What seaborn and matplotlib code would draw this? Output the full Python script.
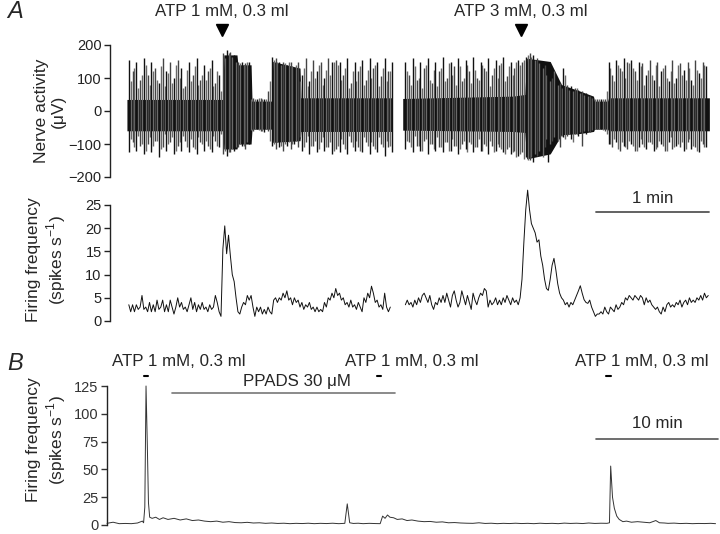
import numpy as np
import matplotlib
matplotlib.use('Agg')
import matplotlib.pyplot as plt
import seaborn as sns

# ---------------- panel A: nerve recording, time in s ----------------
# large spikes, sampled every 2 s (upper / lower excursions, uV)
nerve_l_t = np.arange(10, 151, 2)
nerve_l_up = [155, 120, 150, 95, 160, 110, 150, 130, 85, 160,
              120, 150, 100, 155, 130, 75, 150, 110, 160, 95,
              140, 120, 155, 85, 110,
              175, 185, 180, 170, 150, 150, 145, 150,
              40, 35, 40, 35, 60,
              165, 160, 150, 150, 140, 150, 130, 150, 110, 160,
              90, 155, 120, 150, 100, 160, 150, 155, 150, 110,
              160, 85, 150, 120, 155, 95, 160, 130, 150, 105,
              160, 120, 150]
nerve_l_dn = [-125, -95, -120, -105, -130, -100, -125, -90, -140, -110,
              -120, -95, -130, -105, -120, -90, -125, -110, -130, -95,
              -120, -105, -125, -90, -110,
              -130, -135, -125, -120, -110, -105, -115, -100,
              -60, -55, -60, -65, -60,
              -105, -115, -110, -120, -105, -115, -100, -110, -120, -95,
              -130, -105, -125, -95, -120, -110, -130, -115, -125, -100,
              -130, -95, -120, -110, -125, -95, -130, -105, -125, -100,
              -135, -110, -125]
# smaller spikes in between (odd seconds)
nerve_lm_t = np.arange(11, 150, 2)
nerve_lm_up = [90, 130, 70, 110, 140, 80, 120, 95, 135, 75,
               115, 85, 140, 100, 70, 125, 90, 135, 80, 110,
               95, 130, 75, 120, 60,
               160, 175, 165, 150, 145, 140, 150,
               35, 35, 40, 35, 35, 90,
               155, 150, 140, 145, 150, 135, 140, 90, 130, 75,
               120, 100, 140, 80, 125, 110, 150, 140, 95, 130,
               70, 120, 90, 135, 80, 125, 100, 140, 75, 130,
               90, 120]
nerve_lm_dn = [-85, -110, -75, -100, -120, -80, -105, -90, -115, -70,
               -100, -80, -120, -95, -75, -110, -85, -115, -80, -100,
               -90, -115, -75, -105, -70,
               -120, -125, -115, -110, -100, -105, -95,
               -58, -55, -58, -60, -55, -90,
               -100, -95, -105, -100, -95, -100, -90, -80, -110, -75,
               -105, -90, -115, -80, -110, -95, -120, -105, -85, -115,
               -75, -110, -90, -120, -80, -105, -95, -115, -80, -110,
               -90, -105]
nerve_r_t = np.arange(157, 318, 2)
nerve_r_up = [150, 110, 160, 95, 150, 130, 160, 85, 150, 120,
              165, 100, 150, 135, 160, 90, 155, 120, 165, 100,
              150, 130, 160, 110, 155, 140, 165, 105, 150, 130,
              155, 150,
              165, 175, 170, 160, 150, 140, 120, 100, 95, 85,
              130, 80, 75, 70, 65, 60, 55, 45, 40, 35,
              35, 35,
              150, 110, 155, 130, 160, 150, 155, 120, 150, 145,
              110, 155, 95, 150, 120, 140, 90, 155, 100, 145,
              125, 150, 95, 155, 115, 150, 135]
nerve_r_dn = [-115, -95, -125, -105, -120, -90, -130, -100, -120, -110,
              -125, -95, -120, -105, -130, -100, -115, -95, -125, -110,
              -120, -100, -130, -105, -120, -110, -125, -115, -130, -120,
              -135, -125,
              -140, -150, -155, -135, -125, -110, -155, -90, -85, -110,
              -80, -75, -85, -70, -75, -105, -70, -65, -60, -55,
              -55, -60,
              -100, -110, -95, -120, -105, -115, -100, -120, -110, -100,
              -115, -95, -120, -110, -100, -120, -95, -115, -105, -110,
              -120, -95, -115, -110, -125, -100, -110]
nerve_rm_t = np.arange(158, 317, 2)
nerve_rm_up = [120, 80, 135, 100, 70, 140, 95, 125, 75, 130,
               90, 145, 110, 80, 135, 100, 140, 85, 125, 95,
               140, 120, 75, 130, 100, 145, 90, 135, 110, 150, 140,
               155, 170, 165, 155, 145, 130, 110, 90, 120, 80,
               70, 110, 65, 60, 70, 55, 50, 45, 40, 35,
               35, 35,
               60, 130, 90, 140, 120, 100, 145, 130, 95, 135,
               80, 125, 110, 140, 75, 130, 100, 120, 85, 140,
               110, 95, 130, 80, 125, 100, 140]
nerve_rm_dn = [-90, -110, -75, -105, -120, -85, -100, -115, -80, -110,
               -95, -120, -85, -105, -115, -90, -125, -100, -110, -85,
               -120, -105, -90, -125, -100, -115, -130, -110, -125, -140, -130,
               -145, -150, -140, -130, -120, -140, -85, -100, -80, -90,
               -75, -85, -70, -95, -70, -65, -62, -60, -58, -55,
               -55, -58,
               -70, -100, -85, -115, -95, -110, -90, -105, -120, -85,
               -110, -95, -100, -115, -90, -105, -120, -80, -110, -100,
               -95, -115, -85, -105, -120, -90, -110]
# dense background band of the recording
band_l_t = [9, 60, 60.5, 67.5, 68, 75, 75.5, 86, 86.5, 101, 101.5, 150]
band_l_top = [35, 35, 170, 170, 140, 140, 30, 30, 150, 130, 40, 40]
band_l_bot = [-60, -60, -115, -115, -100, -100, -55, -55, -95, -90, -62, -62]
band_r_t = [155.6, 214, 220.5, 221.5, 234, 240, 250, 257, 257.5, 264.5, 265, 318.6]
band_r_top = [38, 45, 50, 160, 150, 80, 60, 45, 30, 30, 40, 40]
band_r_bot = [-58, -62, -65, -145, -130, -72, -68, -62, -55, -55, -60, -60]

# firing frequency (spikes/s), 1 s bins
rate_l_t = np.arange(10, 150)
rate_l = [3.5, 2, 3.5, 2, 3.5, 2.5, 3, 5.5, 2.5, 3,
          2, 4, 2, 3.5, 2, 4.5, 2.5, 3, 4.5, 2,
          3.5, 2, 4.5, 3, 1.5, 3, 5, 3, 4, 2.5,
          3, 2, 3.5, 5, 2.5, 4, 2, 3.5, 2.5, 4,
          2.5, 3, 2, 3.5, 2.5, 3, 5.5, 4, 2, 1,
          15.5, 20.5, 14.5, 18.5, 14, 10, 8.5, 5, 2, 1.5,
          3, 4, 3.5, 5.5, 4.5, 5.5, 3, 1, 3, 2,
          3, 1.5, 2.5, 1.5, 3, 2, 1.5, 4.5, 5, 4,
          5, 4.5, 6, 5, 6.5, 4.5, 5, 3.5, 5, 4,
          4.5, 3, 4, 2.5, 3.5, 3, 4, 2.5, 3, 2,
          3, 2, 2.5, 2, 4, 3, 5, 4.5, 6, 5,
          7, 5.5, 6, 4.5, 5, 3.5, 4, 3, 4.5, 3,
          3.5, 2.5, 4, 3, 2, 5, 4, 6, 5, 7.5,
          6, 4, 4.5, 3, 3.5, 2.5, 6, 3, 2, 3]
rate_r_t = np.arange(157, 319)
rate_r = [3.5, 4.5, 3.5, 4, 3, 4.5, 3.5, 5, 4, 5.5,
          6, 5, 4, 5.5, 3.5, 2.5, 4, 3.5, 5, 4,
          5.5, 4, 6, 4.5, 3, 5.5, 6.5, 4.5, 3, 4,
          6.5, 5, 3.5, 5.5, 4, 2.5, 6, 4.5, 3.5, 5,
          6, 5.5, 7, 6.5, 3, 4.5, 3.5, 4, 5, 3.5,
          4.5, 3.5, 5, 4, 5.5, 4.5, 3.5, 5, 4, 4.5, 3.5, 5,
          9, 17, 24, 28.2, 24, 21, 20, 19, 17, 17.5,
          14, 12, 9, 7, 6.6, 9, 12, 13.5, 11, 8,
          6, 5, 4.5, 3.5, 4, 3, 4, 3.5, 4.5, 5.5,
          6.5, 7.6, 6, 4.6, 4, 3.8, 4.5, 3, 2, 1,
          1.5, 1.5,
          2, 1.5, 3, 2, 1.5, 3, 2.5, 2, 3.5, 2.5,
          3, 4, 3.5, 5, 4.5, 5.5, 5, 4.5, 5.5, 5,
          4.5, 5.5, 5, 3.5, 5, 4, 4.5, 3.5, 3, 2.5,
          3, 2, 1.5, 3, 2, 3.5, 4, 3, 3.5, 3,
          4, 3.5, 4.5, 3, 4, 4.5, 3.5, 5, 4, 4.5,
          4, 5, 4.5, 5.5, 4.5, 6, 5, 5.5]

atp_a_times = [59.5, 218.3]
atp_a_labels = ['ATP 1 mM, 0.3 ml', 'ATP 3 mM, 0.3 ml']

# ---------------- panel B: long recording, time in min ----------------
b_time = [0, 0.5, 1, 1.5, 2, 2.5, 2.9, 3.0, 3.1, 3.2,
          3.3, 3.4, 3.5, 3.7, 4, 4.3, 4.6, 5, 5.5, 6,
          6.5, 7, 7.5, 8, 8.5, 9, 9.5, 10, 10.5, 11,
          11.5, 12, 12.5, 13, 13.5, 14, 14.5, 15, 15.5, 16,
          16.5, 17, 17.5, 18, 18.5, 19, 19.5, 19.7, 19.9, 20.2,
          20.6, 21, 21.5, 22, 22.4, 22.6, 22.8, 23, 23.2, 23.5,
          23.8, 24.2, 24.6, 25, 25.5, 26, 26.5, 27, 27.5, 28,
          28.5, 29, 29.5, 30, 30.5, 31, 31.5, 32, 32.5, 33,
          33.5, 34, 34.5, 35, 35.5, 36, 36.5, 37, 37.5, 38,
          38.5, 39, 39.5, 40, 40.5, 41, 41.2, 41.3, 41.45, 41.6,
          41.8, 42.0, 42.3, 42.6, 43, 43.5, 44, 44.5, 45, 45.3,
          45.7, 46, 46.5, 47, 47.5, 48, 48.5, 49, 49.5, 49.9]
b_rate = [1.5, 2.5, 1.2, 1.4, 1.2, 1.8, 3.5, 2.0, 16, 125,
          75, 20, 7, 6, 7, 5, 6.5, 5, 6, 4.5,
          5.5, 4, 4.5, 3.5, 3, 3.5, 2.5, 3, 2.2, 2,
          2.4, 1.8, 2, 1.5, 1.8, 1.4, 1.6, 1.2, 1.5, 1.3,
          1.6, 1.2, 1.5, 1.3, 1.6, 1.2, 1.5, 19, 2, 1.4,
          1.6, 1.2, 1.5, 1.3, 1.2, 8, 6, 9, 7, 6.5,
          5, 5.5, 4, 4.5, 3.5, 3, 3.2, 2.5, 2.8, 2,
          2.2, 1.8, 1.6, 1.5, 2, 1.4, 1.6, 1.2, 1.5, 1.3,
          1.6, 1.3, 1.5, 1.2, 1.6, 1.3, 1.5, 1.2, 1.7, 1.4,
          1.6, 1.3, 1.8, 1.4, 1.6, 1.5, 2, 53, 25, 15,
          8, 5, 3, 3.5, 2.5, 3, 2.5, 2, 4, 2,
          1.8, 1.5, 1.7, 1.3, 1.5, 1.2, 1.4, 1.3, 1.5, 1.2]
atp_b_times = [3.2, 22.3, 41.1]
ppads_span = [5.3, 23.6]

sns.set_theme(style='white')
plt.rcParams['font.family'] = ['Liberation Sans', 'DejaVu Sans']
plt.rcParams['mathtext.fontset'] = 'custom'
plt.rcParams['mathtext.rm'] = 'Liberation Sans'

W, H = 720, 534
fig = plt.figure(figsize=(7.2, 5.34), dpi=100)
ax1 = fig.add_axes([110 / W, 1 - 177 / H, 602 / W, 132 / H])
ax2 = fig.add_axes([110 / W, 1 - 321 / H, 602 / W, 116 / H])
ax3 = fig.add_axes([107 / W, 1 - 525 / H, 611 / W, 139 / H])

for ax in (ax1, ax2, ax3):
    sns.despine(ax=ax, bottom=True)
    ax.set_xticks([])
    ax.spines['left'].set_linewidth(1.0)
    ax.spines['left'].set_color('#222222')
    ax.tick_params(axis='y', direction='out', length=4, width=1, labelsize=10.5,
                   pad=2, left=True, colors='#222222')

# nerve activity
ax1.fill_between(band_l_t, band_l_bot, band_l_top, color='#111111', lw=0)
ax1.fill_between(band_r_t, band_r_bot, band_r_top, color='#111111', lw=0)
ax1.vlines(nerve_lm_t, nerve_lm_dn, nerve_lm_up, colors='#6a6a6a', lw=1.0)
ax1.vlines(nerve_rm_t, nerve_rm_dn, nerve_rm_up, colors='#6a6a6a', lw=1.0)
cols_l = ['#111111' if i % 2 == 0 else '#444444' for i in range(len(nerve_l_t))]
cols_r = ['#111111' if i % 2 == 0 else '#444444' for i in range(len(nerve_r_t))]
ax1.vlines(nerve_l_t, nerve_l_dn, nerve_l_up, colors=cols_l, lw=1.0)
ax1.vlines(nerve_r_t, nerve_r_dn, nerve_r_up, colors=cols_r, lw=1.0)
ax1.set_xlim(0, 320)
ax1.set_ylim(-200, 200)
ax1.set_yticks([-200, -100, 0, 100, 200])
for t, lab in zip(atp_a_times, atp_a_labels):
    ax1.plot([t], [245], marker='v', ms=9, color='black', clip_on=False)
    ax1.text(t, 300, lab, ha='center', va='center', fontsize=12.2, clip_on=False)

# firing frequency, panel A
sns.lineplot(x=rate_l_t, y=rate_l, ax=ax2, color='#111111', lw=0.7, estimator=None)
sns.lineplot(x=rate_r_t, y=rate_r, ax=ax2, color='#111111', lw=0.7, estimator=None)
for ln in ax2.lines:
    ln.set_clip_on(False)
ax2.set_xlim(0, 320)
ax2.set_ylim(0, 25)
ax2.set_yticks([0, 5, 10, 15, 20, 25])
ax2.plot([258.6, 318.6], [23.5, 23.5], color='#555555', lw=1.3)
ax2.text(288.6, 26.5, '1 min', ha='center', va='center', fontsize=12.2)

# panel B
sns.lineplot(x=b_time, y=b_rate, ax=ax3, color='#333333', lw=0.7, estimator=None)
for ln in ax3.lines:
    ln.set_clip_on(False)
ax3.set_xlim(0, 50.1)
ax3.set_ylim(0, 125)
ax3.set_yticks([0, 25, 50, 75, 100, 125])
ax3.tick_params(axis='y', colors='#333333')
for t in atp_b_times:
    ax3.plot([t - 0.2, t + 0.2], [134, 134], color='black', lw=1.5, clip_on=False)
    ax3.text(t - 2.75, 147, 'ATP 1 mM, 0.3 ml', ha='left', va='center',
             fontsize=12.2, clip_on=False)
ax3.plot(ppads_span, [119, 119], color='#777777', lw=1.2, clip_on=False)
ax3.text(15.6, 129, 'PPADS 30 \u03bcM', ha='center', va='center', fontsize=12.2)
ax3.plot([40.1, 50.1], [77, 77], color='#555555', lw=1.2, clip_on=False)
ax3.text(45.1, 91, '10 min', ha='center', va='center', fontsize=12.2)

fig.text(50 / W, 1 - 111 / H, 'Nerve activity\n(\u03bcV)', rotation=90, ha='center',
         va='center', fontsize=12.5, multialignment='center')
fig.text(47 / W, 1 - 260 / H, 'Firing frequency\n(spikes s$^{-1}$)', rotation=90,
         ha='center', va='center', fontsize=12.5, multialignment='center')
fig.text(47 / W, 1 - 440 / H, 'Firing frequency\n(spikes s$^{-1}$)', rotation=90,
         ha='center', va='center', fontsize=12.5, multialignment='center')
fig.text(15 / W, 1 - 12 / H, 'A', fontsize=17, style='italic', ha='center', va='center')
fig.text(15 / W, 1 - 363 / H, 'B', fontsize=17, style='italic', ha='center', va='center')

fig.savefig('out.png', dpi=100)
